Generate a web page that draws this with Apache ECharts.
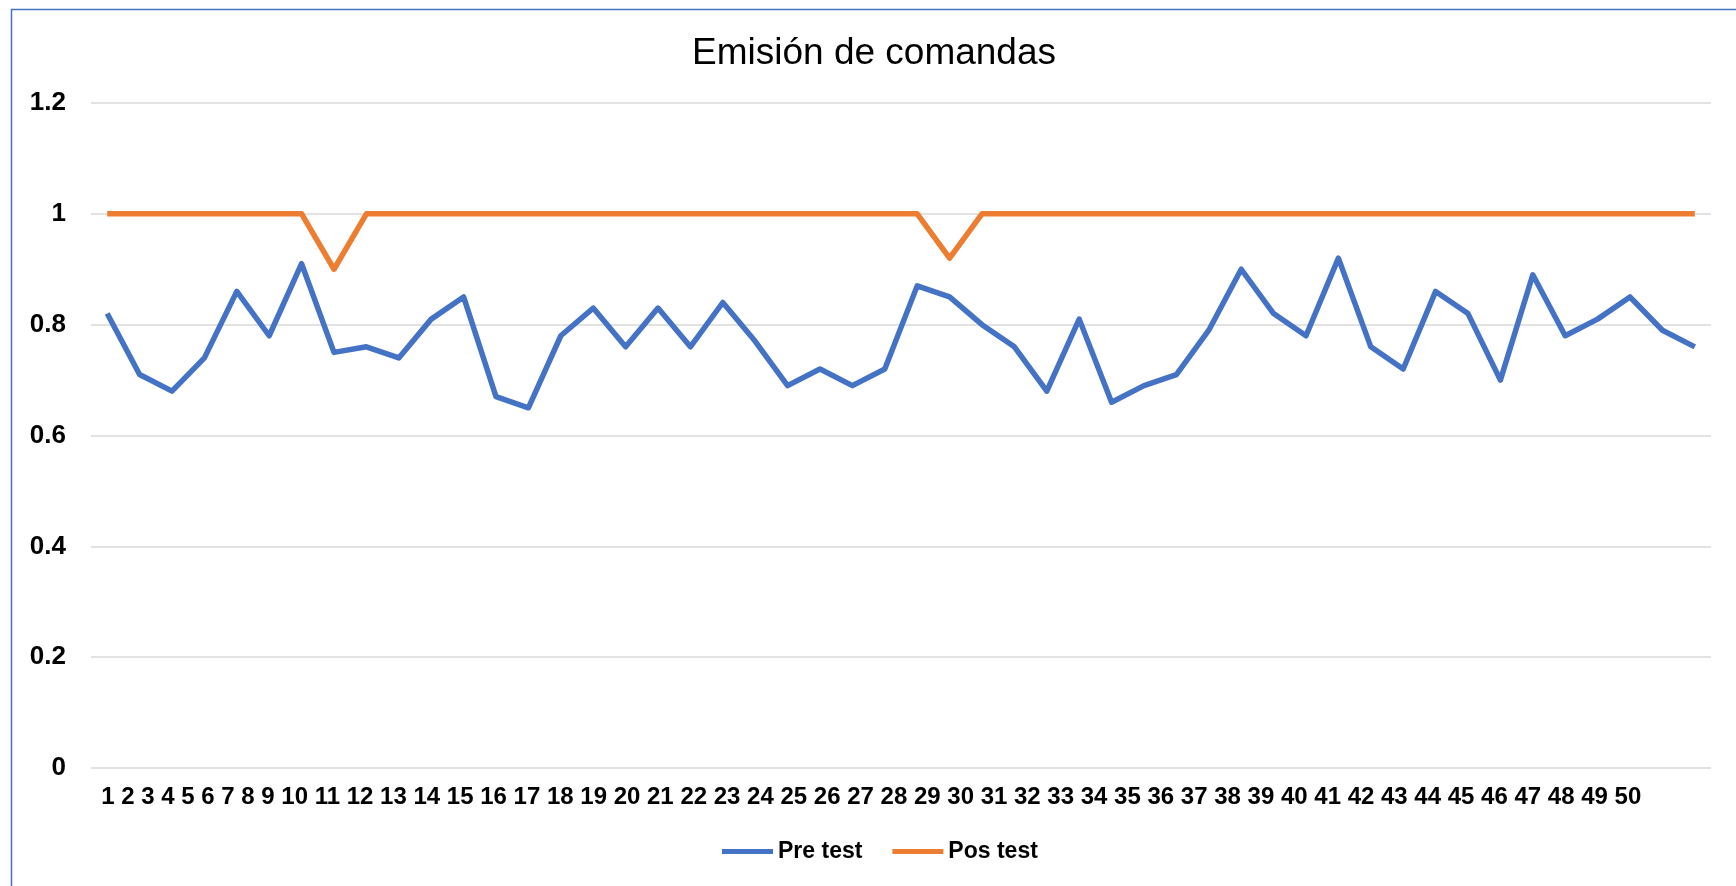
<!DOCTYPE html>
<html>
<head>
<meta charset="utf-8">
<script src="https://cdn.jsdelivr.net/npm/echarts@6/dist/echarts.min.js"></script>
<style>
  html, body { margin: 0; padding: 0; background: #ffffff; }
  #chart { width: 1736px; height: 886px; }
</style>
</head>
<body>
<div id="chart"></div>
<script>
const titleText = 'Emisión de comandas';
const categories = ['1','2','3','4','5','6','7','8','9','10','11','12','13','14','15','16','17','18','19','20',
  '21','22','23','24','25','26','27','28','29','30','31','32','33','34','35','36','37','38','39','40',
  '41','42','43','44','45','46','47','48','49','50'];
const preTest = [0.82,0.71,0.68,0.74,0.86,0.78,0.91,0.75,0.76,0.74,
  0.81,0.85,0.67,0.65,0.78,0.83,0.76,0.83,0.76,0.84,
  0.77,0.69,0.72,0.69,0.72,0.87,0.85,0.80,0.76,0.68,
  0.81,0.66,0.69,0.71,0.79,0.90,0.82,0.78,0.92,0.76,
  0.72,0.86,0.82,0.70,0.89,0.78,0.81,0.85,0.79,0.76];
const posTest = [1,1,1,1,1,1,1,0.90,1,1,
  1,1,1,1,1,1,1,1,1,1,
  1,1,1,1,1,1,0.92,1,1,1,
  1,1,1,1,1,1,1,1,1,1,
  1,1,1,1,1,1,1,1,1,1];
const seriesNames = ['Pre test', 'Pos test'];

const FONT = "'Liberation Sans', Arial, sans-serif";
const chart = echarts.init(document.getElementById('chart'), null, { renderer: 'canvas' });
chart.setOption({
  backgroundColor: '#ffffff',
  animation: false,
  title: {
    text: titleText,
    left: 692,
    top: 35,
    padding: 0,
    textStyle: { fontFamily: FONT, fontSize: 37, fontWeight: 'normal', color: '#000000' }
  },
  legend: {
    data: seriesNames,
    left: 722,
    top: 840,
    padding: 0,
    icon: 'rect',
    itemWidth: 51,
    itemHeight: 5,
    itemGap: 30,
    textStyle: { fontFamily: FONT, fontSize: 23, fontWeight: 'bold', color: '#000000' }
  },
  grid: { left: 91, right: 25, top: 103, bottom: 118, containLabel: false },
  xAxis: {
    type: 'category',
    data: categories,
    boundaryGap: true,
    axisLine: { show: false },
    axisTick: { show: false },
    axisLabel: {
      interval: 0,
      margin: 17,
      align: 'left',
      padding: [0, 0, 0, -6],
      fontFamily: FONT,
      fontSize: 24,
      fontWeight: 'bold',
      color: '#000000',
      formatter: function (v, i) { return i === 0 ? categories.join(' ') : ''; }
    }
  },
  yAxis: {
    type: 'value',
    min: 0,
    max: 1.2,
    interval: 0.2,
    axisLine: { show: false },
    axisTick: { show: false },
    axisLabel: { margin: 25, fontFamily: FONT, fontSize: 26, fontWeight: 'bold', color: '#000000' },
    splitLine: { lineStyle: { color: '#d9d9d9', width: 1.5 } }
  },
  series: [
    {
      name: seriesNames[0],
      type: 'line',
      data: preTest,
      symbol: 'none',
      lineStyle: { color: '#4472C4', width: 5.5, join: 'round' },
      itemStyle: { color: '#4472C4' }
    },
    {
      name: seriesNames[1],
      type: 'line',
      data: posTest,
      symbol: 'none',
      lineStyle: { color: '#ED7D31', width: 5.5, join: 'round' },
      itemStyle: { color: '#ED7D31' }
    }
  ],
  graphic: [
    {
      type: 'rect',
      left: 9,
      top: 7,
      silent: true,
      shape: { x: 0, y: 0, width: 2000, height: 2000 },
      style: { fill: 'none', stroke: '#4472C4', lineWidth: 1.5 }
    }
  ]
});
</script>
</body>
</html>
